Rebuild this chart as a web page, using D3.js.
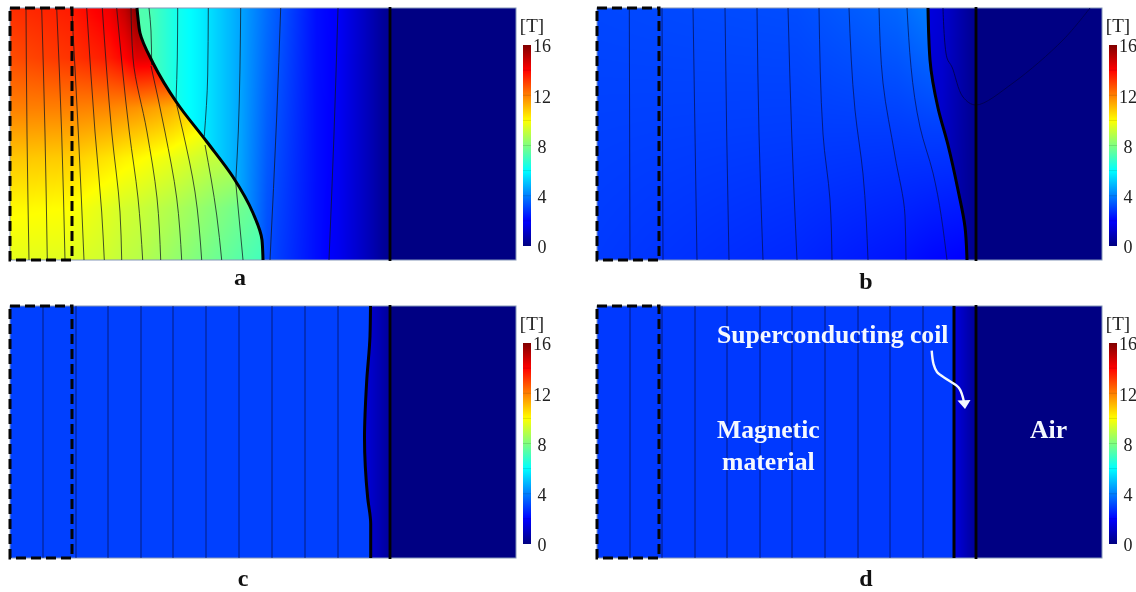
<!DOCTYPE html>
<html>
<head>
<meta charset="utf-8">
<script src="https://cdn.jsdelivr.net/npm/d3@7/dist/d3.min.js"></script>
<style>
html,body{margin:0;padding:0;background:#fff;overflow:hidden}
#wrap{position:relative;width:1136px;height:592px;overflow:hidden;filter:blur(0.6px)}
canvas,svg{position:absolute;left:0;top:0}
</style>
</head>
<body>
<div id="wrap"><canvas id="field" width="1136" height="592"></canvas><svg id="chart" width="1136" height="592"></svg></div>
<script>
// Colour bar
const colorDomain = [0, 2, 6, 10, 14, 16];
const colorRange = ["#000080", "#0000ff", "#00ffff", "#ffff00", "#ff0000", "#800000"];
const colorTicks = [0, 4, 8, 12, 16];
const colorMinorTicks = [2, 4, 6, 8, 10, 12, 14];
const airValue = 0.05;

// Panel letters
const panelNames = ["a", "b", "c", "d"];

// Field samples, panel a (T)
const aMagnetX = [0, 60, 100, 115, 127, 160, 200, 255];
const aMagnetY = [0, 50, 100, 150, 200, 252];
const aMagnetB = [
  [13.3, 13.6, 14.3, 15.0, 16.0, 16.0, 16.0, 16.0],
  [12.8, 13.2, 13.6, 14.0, 14.5, 14.5, 14.5, 14.5],
  [12.0, 12.0, 11.9, 11.8, 11.7, 11.3, 10.4, 10.0],
  [10.9, 10.8, 10.4, 10.2, 10.1, 9.7, 9.1, 8.8],
  [10.1, 10.0, 9.5, 9.3, 9.2, 8.8, 8.2, 7.4],
  [9.6, 9.5, 9.2, 9.0, 8.9, 8.4, 7.8, 7.0]
];
const aOuterX = [125, 140, 167, 193, 230, 257, 271, 306, 328, 356, 373, 380];
const aOuterY = [0, 252];
const aOuterB = [
  [7.3, 7.2, 6.3, 5.7, 4.6, 3.7, 3.3, 2.2, 1.9, 1.0, 0.4, 0.25],
  [7.3, 7.2, 6.3, 5.7, 4.6, 3.2, 2.9, 2.2, 1.8, 1.0, 0.4, 0.25]
];
// Panel b
const bMagnetX = [0, 200, 300, 335, 375];
const bMagnetY = [0, 120, 252];
const bMagnetB = [
  [3.1, 3.2, 3.6, 4.0, 4.0],
  [3.0, 2.95, 2.95, 3.0, 3.0],
  [2.9, 2.6, 2.3, 2.1, 1.95]
];
const bOuterX = [325, 345, 379];
const bOuterY = [0, 252];
const bOuterB = [
  [1.6, 1.3, 0.2],
  [1.0, 1.0, 0.2]
];
// Panel c
const cMagnetX = [0, 380];
const cMagnetY = [0, 252];
const cMagnetB = [[3.0, 3.0], [3.0, 3.0]];
const cOuterX = [350, 380];
const cOuterY = [0, 252];
const cOuterB = [[1.6, 0.4], [1.6, 0.4]];
// Panel d
const dMagnetX = [0, 360];
const dMagnetY = [0, 252];
const dMagnetB = [[2.9, 2.9], [2.9, 2.9]];
const dOuterX = [357, 379];
const dOuterY = [0, 252];
const dOuterB = [[1.5, 0.35], [1.5, 0.35]];

// Normal-zone fronts
const aFront = [[127,0],[128,10],[130,25],[143,55],[167,95],[197,134],[223,169],[243,205],[252,232],[253,252]];
const bFront = [[331,0],[333,52],[341,100],[351,137],[361,182],[368,219],[370,252]];
const cFront = [[360.5,0],[360,30],[356.7,75],[354.5,132],[357.7,192],[360.7,218],[360.7,252]];
const dFront = [[357,0],[357,252]];

// Coil outer edge
const aEdge = 380, bEdge = 379, cEdge = 380, dEdge = 379;

// Flux lines
const aLines = [
  [[16,0],[17,126],[19,252]],
  [[31.7,0],[35,126],[37.3,252]],
  [[46.7,0],[51.7,126],[55,252]],
  [[61.7,0],[68.3,124],[74,252]],
  [[76.7,0],[85,124],[91.7,204],[94.3,252]],
  [[92.3,0],[101.7,124],[110,204],[111.7,252]],
  [[106.7,0],[119.3,124],[128,190],[132.7,252]],
  [[121,0],[123,50],[137,124],[147,190],[150.7,252]],
  [[141,58],[155,124],[166.7,190],[171.7,252]],
  [[166.7,97],[173,124],[185,184],[191.7,252]],
  [[195,137],[206.7,207],[211.7,252]],
  [[225.7,174],[233,252]],
  [[139,0],[141,23],[141.7,57]],
  [[167.7,0],[167.3,50],[166,93]],
  [[198.3,0],[197.7,67],[194.3,128]],
  [[230.7,0],[228.3,124],[225.7,174]],
  [[270.7,0],[266.7,109],[260,252]],
  [[328,0],[324,126],[319,252]]
];
const bLines = [
  [[32.3,0],[33,252]],
  [[65,0],[66,252]],
  [[96,0],[98,126],[100,252]],
  [[128,0],[129.7,126],[132,252]],
  [[160,0],[162,126],[166,252]],
  [[191,0],[194.7,126],[200,252]],
  [[222,0],[226,126],[233,192],[235,252]],
  [[252,0],[258,102],[266,166],[271,252]],
  [[282,0],[286,75],[298,148],[308,208],[309,252]],
  [[310,0],[323,119],[336,165],[350,252]]
];
const bAirLine = [[346,0],[350,50],[355,59],[366,89],[379,97],[416,75],[466,32],[493,0]];
const cLineX = [33, 66, 98, 131, 163, 196, 229, 262, 295, 328];
const dLineX = [33, 65, 98, 130, 163, 195, 228, 261, 293, 326];

// Annotation path in panel d
const dArrow = [[334.7,44.7],[336.5,58],[340,66],[351,74],[362,82],[367,96]];
const dArrowHead = [[368,103],[360.5,94.5],[373.5,94]];

const panels = [
  {name:"a", left:10,  top:8,   w:506, front:aFront, edge:aEdge, mx:aMagnetX, my:aMagnetY, mb:aMagnetB, ox:aOuterX, oy:aOuterY, ob:aOuterB,
   lines:aLines, label:[240,285], cbX:523, unitX:532},
  {name:"b", left:597, top:8,   w:505, front:bFront, edge:bEdge, mx:bMagnetX, my:bMagnetY, mb:bMagnetB, ox:bOuterX, oy:bOuterY, ob:bOuterB,
   lines:bLines, label:[866,289], cbX:1109, unitX:1118},
  {name:"c", left:10,  top:306, w:506, front:cFront, edge:cEdge, mx:cMagnetX, my:cMagnetY, mb:cMagnetB, ox:cOuterX, oy:cOuterY, ob:cOuterB,
   lines:cLineX.map(x=>[[x,0],[x,252]]), label:[243,586], cbX:523, unitX:532},
  {name:"d", left:597, top:306, w:505, front:dFront, edge:dEdge, mx:dMagnetX, my:dMagnetY, mb:dMagnetB, ox:dOuterX, oy:dOuterY, ob:dOuterB,
   lines:dLineX.map(x=>[[x,0],[x,252]]), label:[866,586], cbX:1109, unitX:1118}
];

const color = d3.scaleLinear().domain(colorDomain).range(colorRange).clamp(true);
const ctx = document.getElementById("field").getContext("2d");
const svg = d3.select("#chart");
const defs = svg.append("defs");
const serif = "'Liberation Serif','Times New Roman',serif";

// colour-bar gradient
const grad = defs.append("linearGradient").attr("id","jet").attr("x1",0).attr("x2",0).attr("y1",1).attr("y2",0);
colorDomain.forEach((v,i)=>grad.append("stop").attr("offset",v/16).attr("stop-color",colorRange[i]));

// sample a table of values by bilinear lookup in its own cells
function sampler(xs, ys, vals){
  const fx = d3.scaleLinear().domain(xs).range(xs.map((_,i)=>i)).clamp(true);
  const fy = d3.scaleLinear().domain(ys).range(ys.map((_,i)=>i)).clamp(true);
  return (x,y)=>{
    const a = fx(x), b = fy(y);
    const i = Math.min(Math.floor(a), xs.length-2), j = Math.min(Math.floor(b), ys.length-2);
    const s = a-i, t = b-j;
    return (vals[j][i]*(1-s)+vals[j][i+1]*s)*(1-t)+(vals[j+1][i]*(1-s)+vals[j+1][i+1]*s)*t;
  };
}

function paintRegion(p, xS, yS, xs, ys, vals, clip){
  const f = sampler(xs, ys, vals);
  const W = p.w, H = 252;
  const off = document.createElement("canvas"); off.width = W; off.height = H;
  const octx = off.getContext("2d");
  const img = octx.createImageData(W, H);
  for(let py=0; py<H; py++) for(let px=0; px<W; px++){
    const c = d3.rgb(color(f(xS.invert(px+p.left+.5), yS.invert(py+p.top+.5))));
    const k = (py*W+px)*4;
    img.data[k]=c.r; img.data[k+1]=c.g; img.data[k+2]=c.b; img.data[k+3]=255;
  }
  octx.putImageData(img,0,0);
  ctx.save();
  ctx.clip(new Path2D(clip));
  ctx.drawImage(off,p.left,p.top);
  ctx.restore();
}

panels.forEach(p=>{
  const x = d3.scaleLinear().domain([0,p.w]).range([p.left,p.left+p.w]);
  const y = d3.scaleLinear().domain([0,252]).range([p.top,p.top+252]);
  const line = d3.line().x(d=>x(d[0])).y(d=>y(d[1])).curve(d3.curveMonotoneY);
  const loop = d3.line().x(d=>x(d[0])).y(d=>y(d[1])).curve(d3.curveCatmullRom.alpha(0.5));
  const straight = d3.line().x(d=>x(d[0])).y(d=>y(d[1]));
  const frontPath = line(p.front);

  // field
  ctx.fillStyle = color(airValue);
  ctx.fillRect(x(p.edge), y(0), x(p.w)-x(p.edge), 252);
  paintRegion(p, x, y, p.ox, p.oy, p.ob, `${frontPath}L${x(p.edge)},${y(252)}L${x(p.edge)},${y(0)}Z`);
  paintRegion(p, x, y, p.mx, p.my, p.mb, `${frontPath}L${x(0)},${y(252)}L${x(0)},${y(0)}Z`);

  const g = svg.append("g").attr("class","panel-"+p.name);

  // outline
  g.append("rect").attr("x",x(0)).attr("y",y(0)).attr("width",x(p.w)-x(0)).attr("height",252)
    .attr("fill","none").attr("stroke","#8496b8").attr("stroke-width",1);

  // flux lines
  g.append("g").selectAll("path").data(p.lines).join("path")
    .attr("d",line).attr("fill","none")
    .attr("stroke",p.name==="a"?"#101820":"#061048").attr("stroke-opacity",p.name==="a"?.75:.7).attr("stroke-width",1);
  if(p.name==="b"){
    g.append("path").attr("d",loop(bAirLine)).attr("fill","none").attr("stroke","#000050").attr("stroke-width",.9);
  }

  // coil boundaries
  g.append("path").attr("d",line(p.front)).attr("fill","none").attr("stroke","#020202").attr("stroke-width",3);
  g.append("line").attr("x1",x(p.edge)).attr("x2",x(p.edge)).attr("y1",y(0)-1).attr("y2",y(252)+1)
    .attr("stroke","#020202").attr("stroke-width",2.8);

  // dashed box
  g.append("rect").attr("x",x(0)).attr("y",y(0)).attr("width",x(62)-x(0)).attr("height",252)
    .attr("fill","none").attr("stroke","#050505").attr("stroke-width",3).attr("stroke-dasharray","10,5");

  // panel letter
  g.append("text").text(p.name).attr("x",p.label[0]).attr("y",p.label[1])
    .attr("text-anchor","middle").attr("font-family",serif).attr("font-weight","bold").attr("font-size",24).attr("fill","#111");

  // colour bar
  const cy = d3.scaleLinear().domain([0,16]).range([p.top+238,p.top+37]);
  g.append("rect").attr("x",p.cbX).attr("y",cy(16)).attr("width",8).attr("height",cy(0)-cy(16)).attr("fill","url(#jet)");
  g.append("g").selectAll("line").data(colorMinorTicks).join("line")
    .attr("x1",p.cbX).attr("x2",p.cbX+8).attr("y1",d=>cy(d)).attr("y2",d=>cy(d))
    .attr("stroke","#000").attr("stroke-opacity",.12);
  const axis = d3.axisRight(cy).tickValues(colorTicks).tickSize(0).tickPadding(0).tickFormat(d3.format("d"));
  const ax = g.append("g").attr("transform",`translate(${p.cbX+19},1)`).call(axis);
  ax.select(".domain").remove();
  ax.selectAll("text").attr("text-anchor","middle").attr("font-family",serif).attr("font-size",18).attr("fill","#222");
  g.append("text").text("[T]").attr("x",p.unitX).attr("y",p.top+24).attr("text-anchor","middle")
    .attr("font-family",serif).attr("font-size",19).attr("fill","#222");

  // annotations
  if(p.name==="d"){
    const white = [
      ["Superconducting coil",120,37],
      ["Magnetic",120,132],
      ["Air",433,132]
    ];
    g.append("g").selectAll("text").data(white).join("text").text(d=>d[0])
      .attr("x",d=>x(d[1])).attr("y",d=>y(d[2])).attr("font-family",serif).attr("font-weight","bold")
      .attr("font-size",25.7).attr("fill","#f4f8ff");
    g.append("text").text("material").attr("x",x(125)).attr("y",y(164)).attr("font-family",serif)
      .attr("font-weight","bold").attr("font-size",25.7).attr("fill","#f4f8ff");
    g.append("path").attr("d",loop(dArrow))
      .attr("fill","none").attr("stroke","#f4f8ff").attr("stroke-width",2.4);
    g.append("path").attr("d",straight(dArrowHead)+"Z").attr("fill","#f4f8ff");
  }
});
</script>
</body>
</html>
